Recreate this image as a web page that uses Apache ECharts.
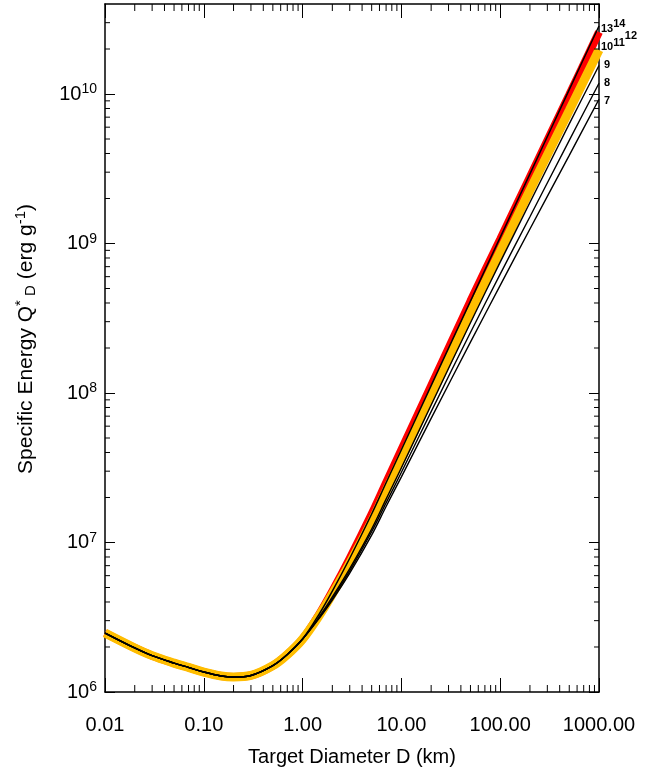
<!DOCTYPE html>
<html>
<head>
<meta charset="utf-8">
<title>Specific Energy vs Target Diameter</title>
<script src="https://cdn.jsdelivr.net/npm/echarts@6/dist/echarts.min.js"></script>
<style>
  html, body { margin: 0; padding: 0; background: #ffffff; }
  #chart { width: 658px; height: 773px; }
</style>
</head>
<body>
<div id="chart"></div>
<script>
// Target diameter D (km)
const diameters = [0.01, 0.02, 0.03, 0.05, 0.07, 0.1, 0.15, 0.2, 0.3, 0.5, 0.7, 1,
                   1.5, 2, 3, 5, 7, 10, 20, 50, 100, 200, 500, 1000];

// Specific energy Q*_D (erg g^-1) for each curve, one value per diameter
const qBlack = [2.48e6, 1.97e6, 1.75e6, 1.56e6, 1.46e6, 1.36e6, 1.28e6, 1.26e6, 1.29e6, 1.50e6, 1.78e6, 2.26e6,
                3.39e6, 4.73e6, 7.85e6, 1.55e7, 2.51e7, 4.17e7, 1.12e8, 4.12e8, 1.10e9, 2.92e9, 1.07e10, 2.85e10];
const qRed   = [2.48e6, 1.97e6, 1.75e6, 1.56e6, 1.46e6, 1.36e6, 1.28e6, 1.26e6, 1.29e6, 1.50e6, 1.78e6, 2.26e6,
                3.39e6, 4.73e6, 7.85e6, 1.55e7, 2.51e7, 4.17e7, 1.12e8, 4.12e8, 1.07e9, 2.79e9, 9.89e9, 2.60e10];
const qOrange = [2.48e6, 1.97e6, 1.75e6, 1.56e6, 1.46e6, 1.36e6, 1.28e6, 1.26e6, 1.29e6, 1.50e6, 1.78e6, 2.26e6,
                 3.31e6, 4.52e6, 7.24e6, 1.38e7, 2.21e7, 3.63e7, 9.55e7, 3.43e8, 8.81e8, 2.27e9, 7.76e9, 1.97e10];
const q9 = [2.48e6, 1.97e6, 1.75e6, 1.56e6, 1.46e6, 1.36e6, 1.28e6, 1.26e6, 1.29e6, 1.50e6, 1.78e6, 2.26e6,
            3.24e6, 4.32e6, 6.69e6, 1.23e7, 1.95e7, 3.16e7, 8.32e7, 2.95e8, 7.50e8, 1.88e9, 6.31e9, 1.55e10];
const q8 = [2.48e6, 1.97e6, 1.75e6, 1.56e6, 1.46e6, 1.36e6, 1.28e6, 1.26e6, 1.29e6, 1.50e6, 1.78e6, 2.26e6,
            3.20e6, 4.22e6, 6.46e6, 1.18e7, 1.84e7, 2.95e7, 7.50e7, 2.54e8, 6.24e8, 1.51e9, 4.90e9, 1.18e10];
const q7 = [2.48e6, 1.97e6, 1.75e6, 1.56e6, 1.46e6, 1.36e6, 1.28e6, 1.26e6, 1.29e6, 1.50e6, 1.78e6, 2.26e6,
            3.16e6, 4.12e6, 6.24e6, 1.12e7, 1.74e7, 2.75e7, 6.76e7, 2.19e8, 5.25e8, 1.25e9, 3.89e9, 9.23e9];

// Axis ranges and tick labels
const X_MIN = 0.01, X_MAX = 1000;
const Y_MIN = 1e6, Y_MAX = 4e10;
const xTickLabels = ['0.01', '0.10', '1.00', '10.00', '100.00', '1000.00'];
const yTickExponents = [6, 7, 8, 9, 10];

// Minor ticks at 2..9 times each power of ten
function minorTicks(lo, hi) {
  const out = [];
  for (let e = Math.floor(Math.log10(lo)); e < Math.ceil(Math.log10(hi)); e++) {
    for (let m = 2; m <= 9; m++) {
      const v = m * Math.pow(10, e);
      if (v > lo && v < hi) out.push(v);
    }
  }
  return out;
}
const xMinorTicks = minorTicks(X_MIN, X_MAX);
const yMinorTicks = minorTicks(Y_MIN, Y_MAX);

const FONT = '"Liberation Sans", Arial, Helvetica, sans-serif';
const BLACK = '#000000';
const ORANGE = '#FFBE00';
const RED = '#FF0000';

const pairs = arr => diameters.map((d, i) => [d, arr[i]]);

function xLabel(v) {
  const e = Math.round(Math.log10(v));
  if (Math.abs(Math.log10(v) - e) > 1e-6) return '';
  const idx = e + 2;
  return xTickLabels[idx] !== undefined ? xTickLabels[idx] : '';
}
function yLabel(v) {
  const e = Math.round(Math.log10(v));
  if (Math.abs(Math.log10(v) - e) > 1e-6 || yTickExponents.indexOf(e) < 0) return '';
  return '{b|10}{s|' + e + '}';
}

const axisLine = { show: true, onZero: false, lineStyle: { color: BLACK, width: 1.5 } };

function xAxisDef(position, showLabels) {
  return {
    type: 'log', logBase: 10, min: X_MIN, max: X_MAX, position: position,
    axisLine: axisLine,
    axisTick: { show: true, inside: true, length: 14, lineStyle: { color: BLACK, width: 1 } },
    axisLabel: showLabels ? {
      show: true, formatter: xLabel, fontFamily: FONT, fontSize: 20, color: BLACK, margin: 23,
      showMinLabel: true, showMaxLabel: true
    } : { show: false },
    splitLine: { show: false }
  };
}
function yAxisDef(position, showLabels) {
  return {
    type: 'log', logBase: 10, min: Y_MIN, max: Y_MAX, position: position,
    axisLine: axisLine,
    axisTick: { show: true, inside: true, length: 10, lineStyle: { color: BLACK, width: 1 } },
    axisLabel: showLabels ? {
      show: true, formatter: yLabel, margin: 8, showMinLabel: true, showMaxLabel: false,
      rich: {
        b: { fontFamily: FONT, fontSize: 20, color: BLACK },
        s: { fontFamily: FONT, fontSize: 14, color: BLACK, padding: [0, 0, 9, 0] }
      }
    } : { show: false },
    splitLine: { show: false }
  };
}

// Short minor tick marks on all four frame edges, placed through the axis scales
function minorTickSeries(dim, values, len) {
  return {
    type: 'custom', silent: true, clip: false, z: 10,
    xAxisIndex: 0, yAxisIndex: 0,
    data: values.map(v => dim === 'x' ? [v, Y_MIN] : [X_MIN, v]),
    renderItem: function (params, api) {
      const style = { stroke: BLACK, lineWidth: 1 };
      if (dim === 'x') {
        const v = api.value(0);
        const pb = api.coord([v, Y_MIN]);
        const pt = api.coord([v, Y_MAX]);
        return { type: 'group', children: [
          { type: 'line', shape: { x1: pb[0], y1: pb[1], x2: pb[0], y2: pb[1] - len }, style: style },
          { type: 'line', shape: { x1: pt[0], y1: pt[1], x2: pt[0], y2: pt[1] + len }, style: style }
        ]};
      }
      const v = api.value(1);
      const pl = api.coord([X_MIN, v]);
      const pr = api.coord([X_MAX, v]);
      return { type: 'group', children: [
        { type: 'line', shape: { x1: pl[0], y1: pl[1], x2: pl[0] + len, y2: pl[1] }, style: style },
        { type: 'line', shape: { x1: pr[0], y1: pr[1], x2: pr[0] - len, y2: pr[1] }, style: style }
      ]};
    }
  };
}

const endLabelBase = { show: true, color: BLACK, fontFamily: FONT, fontSize: 11, fontWeight: 'bold' };

function curve(name, data, color, width, z, endLabel) {
  return {
    name: name, type: 'line', data: pairs(data), xAxisIndex: 0, yAxisIndex: 0,
    showSymbol: false, smooth: 0.35, z: z,
    lineStyle: { color: color, width: width },
    endLabel: endLabel ? Object.assign({}, endLabelBase, endLabel) : { show: false },
    emphasis: { disabled: true }
  };
}

const chart = echarts.init(document.getElementById('chart'), null, { renderer: 'canvas' });
chart.setOption({
  animation: false,
  backgroundColor: '#ffffff',
  grid: { left: 105, right: 59, top: 4, bottom: 81 },
  xAxis: [
    Object.assign(xAxisDef('bottom', true), {
      name: 'Target Diameter D (km)', nameLocation: 'middle', nameGap: 55,
      nameTextStyle: { fontFamily: FONT, fontSize: 20, color: BLACK }
    }),
    xAxisDef('top', false)
  ],
  yAxis: [
    Object.assign(yAxisDef('left', true), {
      name: '{t|Specific Energy Q}{sup|*}{sub| D}{t| (erg g}{sup|-1}{t|)}',
      nameLocation: 'middle', nameGap: 66, nameRotate: 90,
      nameTextStyle: {
        padding: [0, 0, 0, 18],
        rich: {
          t: { fontFamily: FONT, fontSize: 21, color: BLACK },
          sup: { fontFamily: FONT, fontSize: 15, color: BLACK, padding: [0, 0, 11, 0] },
          sub: { fontFamily: FONT, fontSize: 15, color: BLACK, padding: [9, 0, 0, 0] }
        }
      }
    }),
    yAxisDef('right', false)
  ],
  series: [
    curve('13-14', qRed, RED, 8, 2, {
      formatter: '{a|13}{b|14}', distance: 2, offset: [0, -3],
      rich: { a: {}, b: { padding: [0, 0, 10, 0] } }
    }),
    curve('10-12', qOrange, ORANGE, 9, 3, {
      formatter: '{a|10}{b|11}{c|12}', distance: 2, offset: [0, -3],
      rich: { a: {}, b: { padding: [0, 0, 8, 0] }, c: { padding: [0, 0, 22, 0] } }
    }),
    curve('7', q7, BLACK, 1.4, 4, { formatter: '7', distance: 5, offset: [0, 2] }),
    curve('8', q8, BLACK, 1.4, 4, { formatter: '8', distance: 5, offset: [0, 0] }),
    curve('9', q9, BLACK, 1.4, 4, { formatter: '9', distance: 5, offset: [0, -1] }),
    curve('reference', qBlack, BLACK, 1.5, 5, null),
    minorTickSeries('x', xMinorTicks, 7),
    minorTickSeries('y', yMinorTicks, 5)
  ]
});
</script>
</body>
</html>
